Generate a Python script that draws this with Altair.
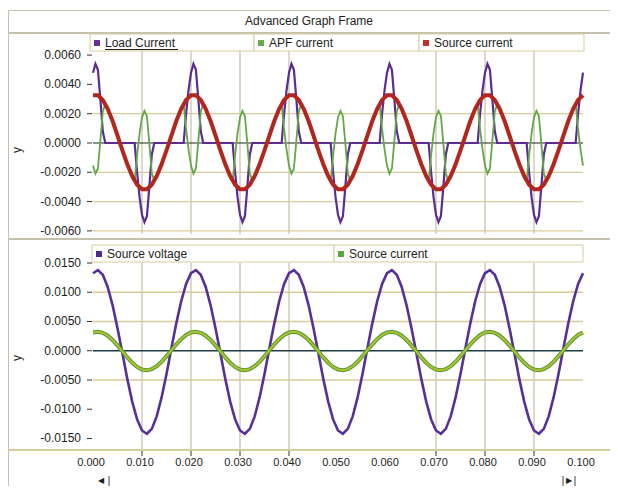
import altair as alt
import pandas as pd

# ---------------- values (units of 1e-4) ----------------
UNIT = 1e-4

# top panel: source current, sampled every 1 ms
TOP_T_MS = list(range(0, 101))
SOURCE_CURRENT_TOP = [
    32.6, 32.6, 29.4, 23.3, 15.0, 5.1, -5.0, -14.5, -22.6, -28.5,
    -31.6, -31.6, -28.5, -22.6, -14.5, -5.0, 5.1, 15.0, 23.3, 29.4,
    32.6, 32.6, 29.4, 23.3, 15.0, 5.1, -5.0, -14.5, -22.6, -28.5,
    -31.6, -31.6, -28.5, -22.6, -14.5, -5.0, 5.1, 15.0, 23.3, 29.4,
    32.6, 32.6, 29.4, 23.3, 15.0, 5.1, -5.0, -14.5, -22.6, -28.5,
    -31.6, -31.6, -28.5, -22.6, -14.5, -5.0, 5.1, 15.0, 23.3, 29.4,
    32.6, 32.6, 29.4, 23.3, 15.0, 5.1, -5.0, -14.5, -22.6, -28.5,
    -31.6, -31.6, -28.5, -22.6, -14.5, -5.0, 5.1, 15.0, 23.3, 29.4,
    32.6, 32.6, 29.4, 23.3, 15.0, 5.1, -5.0, -14.5, -22.6, -28.5,
    -31.6, -31.6, -28.5, -22.6, -14.5, -5.0, 5.1, 15.0, 23.3, 29.4,
    32.6,
]

# top panel: load current and APF current, break points (ms)
PULSE_T_MS = [
    0, 0.5, 1, 1.5, 2, 2.5,
    8.5, 9, 9.5, 10, 10.5, 11, 11.5, 12, 12.5,
    18.5, 19, 19.5, 20, 20.5, 21, 21.5, 22, 22.5,
    28.5, 29, 29.5, 30, 30.5, 31, 31.5, 32, 32.5,
    38.5, 39, 39.5, 40, 40.5, 41, 41.5, 42, 42.5,
    48.5, 49, 49.5, 50, 50.5, 51, 51.5, 52, 52.5,
    58.5, 59, 59.5, 60, 60.5, 61, 61.5, 62, 62.5,
    68.5, 69, 69.5, 70, 70.5, 71, 71.5, 72, 72.5,
    78.5, 79, 79.5, 80, 80.5, 81, 81.5, 82, 82.5,
    88.5, 89, 89.5, 90, 90.5, 91, 91.5, 92, 92.5,
    98.5, 99, 99.5, 100,
]
LOAD_CURRENT = [
    48, 54, 50, 30, 8, 0,
    0, -20, -37, -49, -54, -50, -30, -8, 0,
    0, 20, 36, 48, 54, 50, 30, 8, 0,
    0, -20, -37, -49, -54, -50, -30, -8, 0,
    0, 20, 36, 48, 54, 50, 30, 8, 0,
    0, -20, -37, -49, -54, -50, -30, -8, 0,
    0, 20, 36, 48, 54, 50, 30, 8, 0,
    0, -20, -37, -49, -54, -50, -30, -8, 0,
    0, 20, 36, 48, 54, 50, 30, 8, 0,
    0, -20, -37, -49, -54, -50, -30, -8, 0,
    0, 20, 36, 48,
]
APF_CURRENT = [
    -15.4, -21.0, -17.4, 1.4, 21.4, 26.7,
    -25.9, -8.5, 6.6, 17.4, 22.0, 18.4, -0.4, -20.5, -25.9,
    26.7, 9.4, -4.6, -15.4, -21.0, -17.4, 1.4, 21.4, 26.7,
    -25.9, -8.5, 6.6, 17.4, 22.0, 18.4, -0.4, -20.5, -25.9,
    26.7, 9.4, -4.6, -15.4, -21.0, -17.4, 1.4, 21.4, 26.7,
    -25.9, -8.5, 6.6, 17.4, 22.0, 18.4, -0.4, -20.5, -25.9,
    26.7, 9.4, -4.6, -15.4, -21.0, -17.4, 1.4, 21.4, 26.7,
    -25.9, -8.5, 6.6, 17.4, 22.0, 18.4, -0.4, -20.5, -25.9,
    26.7, 9.4, -4.6, -15.4, -21.0, -17.4, 1.4, 21.4, 26.7,
    -25.9, -8.5, 6.6, 17.4, 22.0, 18.4, -0.4, -20.5, -25.9,
    26.7, 9.4, -4.6, -15.4,
]
APF_SEGMENT = [
    0, 0, 0, 0, 0, 0,
    1, 1, 1, 1, 1, 1, 1, 1, 1,
    2, 2, 2, 2, 2, 2, 2, 2, 2,
    3, 3, 3, 3, 3, 3, 3, 3, 3,
    4, 4, 4, 4, 4, 4, 4, 4, 4,
    5, 5, 5, 5, 5, 5, 5, 5, 5,
    6, 6, 6, 6, 6, 6, 6, 6, 6,
    7, 7, 7, 7, 7, 7, 7, 7, 7,
    8, 8, 8, 8, 8, 8, 8, 8, 8,
    9, 9, 9, 9, 9, 9, 9, 9, 9,
    10, 10, 10, 10,
]

# bottom panel, sampled every 1 ms
BOTTOM_T_MS = list(range(0, 101))
SOURCE_VOLTAGE = [
    132.5, 137.9, 129.9, 109.0, 77.6, 38.5, -4.4, -48.1, -87.0, -117.4,
    -136.3, -141.9, -133.6, -112.2, -79.8, -39.6, 4.3, 46.8, 84.6, 114.1,
    132.5, 137.9, 129.9, 109.0, 77.6, 38.5, -4.4, -48.1, -87.0, -117.4,
    -136.3, -141.9, -133.6, -112.2, -79.8, -39.6, 4.3, 46.8, 84.6, 114.1,
    132.5, 137.9, 129.9, 109.0, 77.6, 38.5, -4.4, -48.1, -87.0, -117.4,
    -136.3, -141.9, -133.6, -112.2, -79.8, -39.6, 4.3, 46.8, 84.6, 114.1,
    132.5, 137.9, 129.9, 109.0, 77.6, 38.5, -4.4, -48.1, -87.0, -117.4,
    -136.3, -141.9, -133.6, -112.2, -79.8, -39.6, 4.3, 46.8, 84.6, 114.1,
    132.5, 137.9, 129.9, 109.0, 77.6, 38.5, -4.4, -48.1, -87.0, -117.4,
    -136.3, -141.9, -133.6, -112.2, -79.8, -39.6, 4.3, 46.8, 84.6, 114.1,
    132.5,
]
SOURCE_CURRENT_BOTTOM = [
    31.2, 32.5, 30.6, 25.7, 18.3, 9.1, -1.0, -11.4, -20.5, -27.7,
    -32.2, -33.5, -31.5, -26.5, -18.8, -9.3, 1.0, 11.0, 19.9, 26.9,
    31.2, 32.5, 30.6, 25.7, 18.3, 9.1, -1.0, -11.4, -20.5, -27.7,
    -32.2, -33.5, -31.5, -26.5, -18.8, -9.3, 1.0, 11.0, 19.9, 26.9,
    31.2, 32.5, 30.6, 25.7, 18.3, 9.1, -1.0, -11.4, -20.5, -27.7,
    -32.2, -33.5, -31.5, -26.5, -18.8, -9.3, 1.0, 11.0, 19.9, 26.9,
    31.2, 32.5, 30.6, 25.7, 18.3, 9.1, -1.0, -11.4, -20.5, -27.7,
    -32.2, -33.5, -31.5, -26.5, -18.8, -9.3, 1.0, 11.0, 19.9, 26.9,
    31.2, 32.5, 30.6, 25.7, 18.3, 9.1, -1.0, -11.4, -20.5, -27.7,
    -32.2, -33.5, -31.5, -26.5, -18.8, -9.3, 1.0, 11.0, 19.9, 26.9,
    31.2,
]

# ticks and labels
TOP_TICKS = [0.006, 0.004, 0.002, 0.0, -0.002, -0.004, -0.006]
TOP_TICK_LABELS = ["0.0060", "0.0040", "0.0020", "0.0000", "-0.0020", "-0.0040", "-0.0060"]
TOP_GRID = [0.002, -0.002, -0.004, -0.006]
BOTTOM_TICKS = [0.015, 0.01, 0.005, 0.0, -0.005, -0.01, -0.015]
BOTTOM_TICK_LABELS = ["0.0150", "0.0100", "0.0050", "0.0000", "-0.0050", "-0.0100", "-0.0150"]
BOTTOM_GRID = [0.01, 0.005, -0.005]
X_TICKS = [0.0, 0.01, 0.02, 0.03, 0.04, 0.05, 0.06, 0.07, 0.08, 0.09, 0.1]
X_TICK_LABELS = ["0.000", "0.010", "0.020", "0.030", "0.040", "0.050",
                 "0.060", "0.070", "0.080", "0.090", "0.100"]
X_GRID = [0.01, 0.02, 0.03, 0.04, 0.07, 0.08, 0.09]

TOP_SERIES = ["Load Current", "APF current", "Source current"]
BOTTOM_SERIES = ["Source voltage", "Source current"]
TITLE = "Advanced Graph Frame"

# ---------------- styling ----------------
FONT = "Liberation Sans"
TXT = "#1e1e1e"
PURPLE = "#5c2b94"
GREEN = "#63a846"
RED = "#b2261d"
VPURPLE = "#55309a"
CUR_EDGE = "#4e9a3c"
CUR_CORE = "#b4c02a"
GRID_H = "#d8cc9a"
GRID_V = "#cbc4aa"
FRAME = "#c6c0ae"
LEG_BORDER = "#d9cc9c"


def px(x):
    return x - 8


def py(y):
    return y - 8


XS = alt.Scale(domain=[0.0, 0.1], range=[px(93), px(583)], nice=False, zero=False)
YT = alt.Scale(domain=[-0.0062, 0.0063], range=[py(233.8), py(50.7)], nice=False, zero=False)
YB = alt.Scale(domain=[-0.0168, 0.0150], range=[py(449), py(263)], nice=False, zero=False)

ONE = pd.DataFrame({"d": [0]})


def rect(x1, y1, x2, y2, fill="white", stroke=None, sw=1.0, fill_opacity=1.0):
    kw = dict(fill=fill, fillOpacity=fill_opacity)
    if stroke:
        kw.update(stroke=stroke, strokeWidth=sw)
    return alt.Chart(ONE).mark_rect(**kw).encode(
        x=alt.value(px(x1)), x2=alt.value(px(x2)),
        y=alt.value(py(y1)), y2=alt.value(py(y2)))


def hline(x1, x2, y, color, sw=1.0):
    return alt.Chart(ONE).mark_rule(color=color, strokeWidth=sw).encode(
        x=alt.value(px(x1)), x2=alt.value(px(x2)), y=alt.value(py(y)))


def vline(x, y1, y2, color, sw=1.0):
    return alt.Chart(ONE).mark_rule(color=color, strokeWidth=sw).encode(
        x=alt.value(px(x)), y=alt.value(py(y1)), y2=alt.value(py(y2)))


def label(x, y, text, align="left", size=12, angle=None, color=TXT, font=FONT):
    kw = dict(text=text, align=align, baseline="middle", fontSize=size, font=font, color=color)
    if angle:
        kw["angle"] = angle
    return alt.Chart(ONE).mark_text(**kw).encode(x=alt.value(px(x)), y=alt.value(py(y)))


# ---------------- frame / decorations ----------------
deco = [
    rect(8.5, 10.5, 611.5, 520, fill="white", stroke=FRAME, sw=1),
    hline(8, 612, 33, FRAME, 2),
    label(309, 21, TITLE, align="center", size=12),
    hline(8, 612, 239, FRAME, 2),
    hline(8, 612, 450, GRID_H, 2),
]

# legends
top_boxes = [(90, 254), (254, 419), (419, 584)]
top_colors = ["#6a2e98", "#6aa84f", "#c0302a"]
for (a, b), name, col in zip(top_boxes, TOP_SERIES, top_colors):
    deco.append(rect(a, 34, b, 51, fill="white", stroke=LEG_BORDER, sw=1))
    deco.append(rect(a + 4, 40, a + 10, 46, fill=col))
    deco.append(label(a + 15, 43, name))
deco.append(hline(105, 178, 49.5, TXT, 1))

bot_boxes = [(92, 334), (334, 583)]
bot_colors = ["#4b2c91", "#5aa540"]
for (a, b), name, col in zip(bot_boxes, BOTTOM_SERIES, bot_colors):
    deco.append(rect(a, 245, b, 262, fill="white", stroke=LEG_BORDER, sw=1))
    deco.append(rect(a + 4, 251, a + 10, 257, fill=col))
    deco.append(label(a + 15, 254, name))

# axis titles
deco.append(label(17, 150, "y", align="center", size=12, angle=270))
deco.append(label(17, 358, "y", align="center", size=12, angle=270))

# scroll bar
deco.append(label(101, 481, "\u25c0", align="center", size=8, font="DejaVu Sans"))
deco.append(vline(109, 476, 486, "#444444", 1))
deco.append(vline(563, 476, 486, "#444444", 1))
deco.append(label(569, 481, "\u25b6", align="center", size=8, font="DejaVu Sans"))
deco.append(vline(575, 476, 486, "#444444", 1))

# ---------------- data frames ----------------
top_src = pd.DataFrame({"t": [m / 1000 for m in TOP_T_MS],
                        "v": [v * UNIT for v in SOURCE_CURRENT_TOP]})
load_df = pd.DataFrame({"t": [m / 1000 for m in PULSE_T_MS],
                        "v": [v * UNIT for v in LOAD_CURRENT]})
apf_df = pd.DataFrame({"t": [m / 1000 for m in PULSE_T_MS],
                       "v": [v * UNIT for v in APF_CURRENT],
                       "seg": APF_SEGMENT})
bot_df = pd.DataFrame({"t": [m / 1000 for m in BOTTOM_T_MS],
                       "volt": [v * UNIT for v in SOURCE_VOLTAGE],
                       "cur": [v * UNIT for v in SOURCE_CURRENT_BOTTOM]})

xenc = alt.X("t:Q", scale=XS, axis=None)
yt = alt.Y("v:Q", scale=YT, axis=None)
yb = alt.Y("v:Q", scale=YB, axis=None)

# ---------------- top panel ----------------
top_layers = [
    alt.Chart(pd.DataFrame({"v": TOP_GRID})).mark_rule(color=GRID_H, strokeWidth=1.3).encode(
        y=yt, x=alt.value(px(93)), x2=alt.value(px(583))),
    alt.Chart(pd.DataFrame({"t": X_GRID})).mark_rule(color=GRID_V, strokeWidth=1.3).encode(
        x=xenc, y=alt.value(py(51)), y2=alt.value(py(234))),
    alt.Chart(pd.DataFrame({"v": [0.0]})).mark_rule(color="#222222", strokeWidth=1.2).encode(
        y=yt, x=alt.value(px(93)), x2=alt.value(px(583))),
    alt.Chart(load_df).mark_line(color=PURPLE, strokeWidth=2.2).encode(x=xenc, y=yt),
    alt.Chart(apf_df).mark_line(color=GREEN, strokeWidth=1.8).encode(x=xenc, y=yt, detail="seg:N"),
    alt.Chart(top_src).mark_line(color=RED, strokeWidth=4).encode(x=xenc, y=yt),
    alt.Chart(pd.DataFrame({"v": TOP_TICKS, "label": TOP_TICK_LABELS})).mark_text(
        align="right", baseline="middle", font=FONT, fontSize=12, color=TXT).encode(
        y=yt, x=alt.value(px(81)), text="label:N"),
    alt.Chart(pd.DataFrame({"v": TOP_TICKS})).mark_rule(color="#333333", strokeWidth=1).encode(
        y=yt, x=alt.value(px(87)), x2=alt.value(px(92))),
]
top = alt.layer(*top_layers)

# ---------------- bottom panel ----------------
bot_layers = [
    alt.Chart(pd.DataFrame({"v": BOTTOM_GRID})).mark_rule(color=GRID_H, strokeWidth=1.3).encode(
        y=yb, x=alt.value(px(93)), x2=alt.value(px(583))),
    alt.Chart(pd.DataFrame({"t": X_GRID})).mark_rule(color=GRID_V, strokeWidth=1.3).encode(
        x=xenc, y=alt.value(py(263)), y2=alt.value(py(449))),
    alt.Chart(pd.DataFrame({"v": [0.0]})).mark_rule(color="#1f3a44", strokeWidth=1.6).encode(
        y=yb, x=alt.value(px(93)), x2=alt.value(px(583))),
    alt.Chart(bot_df).mark_line(color=VPURPLE, strokeWidth=2.6).encode(
        x=xenc, y=alt.Y("volt:Q", scale=YB, axis=None)),
    alt.Chart(bot_df).mark_line(color=CUR_EDGE, strokeWidth=4).encode(
        x=xenc, y=alt.Y("cur:Q", scale=YB, axis=None)),
    alt.Chart(bot_df).mark_line(color=CUR_CORE, strokeWidth=2).encode(
        x=xenc, y=alt.Y("cur:Q", scale=YB, axis=None)),
    alt.Chart(pd.DataFrame({"v": BOTTOM_TICKS, "label": BOTTOM_TICK_LABELS})).mark_text(
        align="right", baseline="middle", font=FONT, fontSize=12, color=TXT).encode(
        y=yb, x=alt.value(px(81)), text="label:N"),
    alt.Chart(pd.DataFrame({"v": BOTTOM_TICKS})).mark_rule(color="#333333", strokeWidth=1).encode(
        y=yb, x=alt.value(px(87)), x2=alt.value(px(92))),
]
bottom = alt.layer(*bot_layers)

# ---------------- x axis ----------------
xlab = alt.Chart(pd.DataFrame({"t": X_TICKS, "label": X_TICK_LABELS})).mark_text(
    align="center", baseline="middle", font=FONT, fontSize=11, color=TXT, dx=-2).encode(
    x=xenc, y=alt.value(py(463)), text="label:N")
xtick = alt.Chart(pd.DataFrame({"t": X_GRID})).mark_rule(color="#333333", strokeWidth=1).encode(
    x=xenc, y=alt.value(py(451)), y2=alt.value(py(456)))

chart = alt.layer(*deco, top, bottom, xlab, xtick).resolve_scale(
    y="independent"
).properties(
    width=602, height=478,
    autosize=alt.AutoSizeParams(type="none"),
    padding=0,
).configure_view(stroke=None)

chart.save("out.html", embed_options={"renderer": "svg", "actions": False})
